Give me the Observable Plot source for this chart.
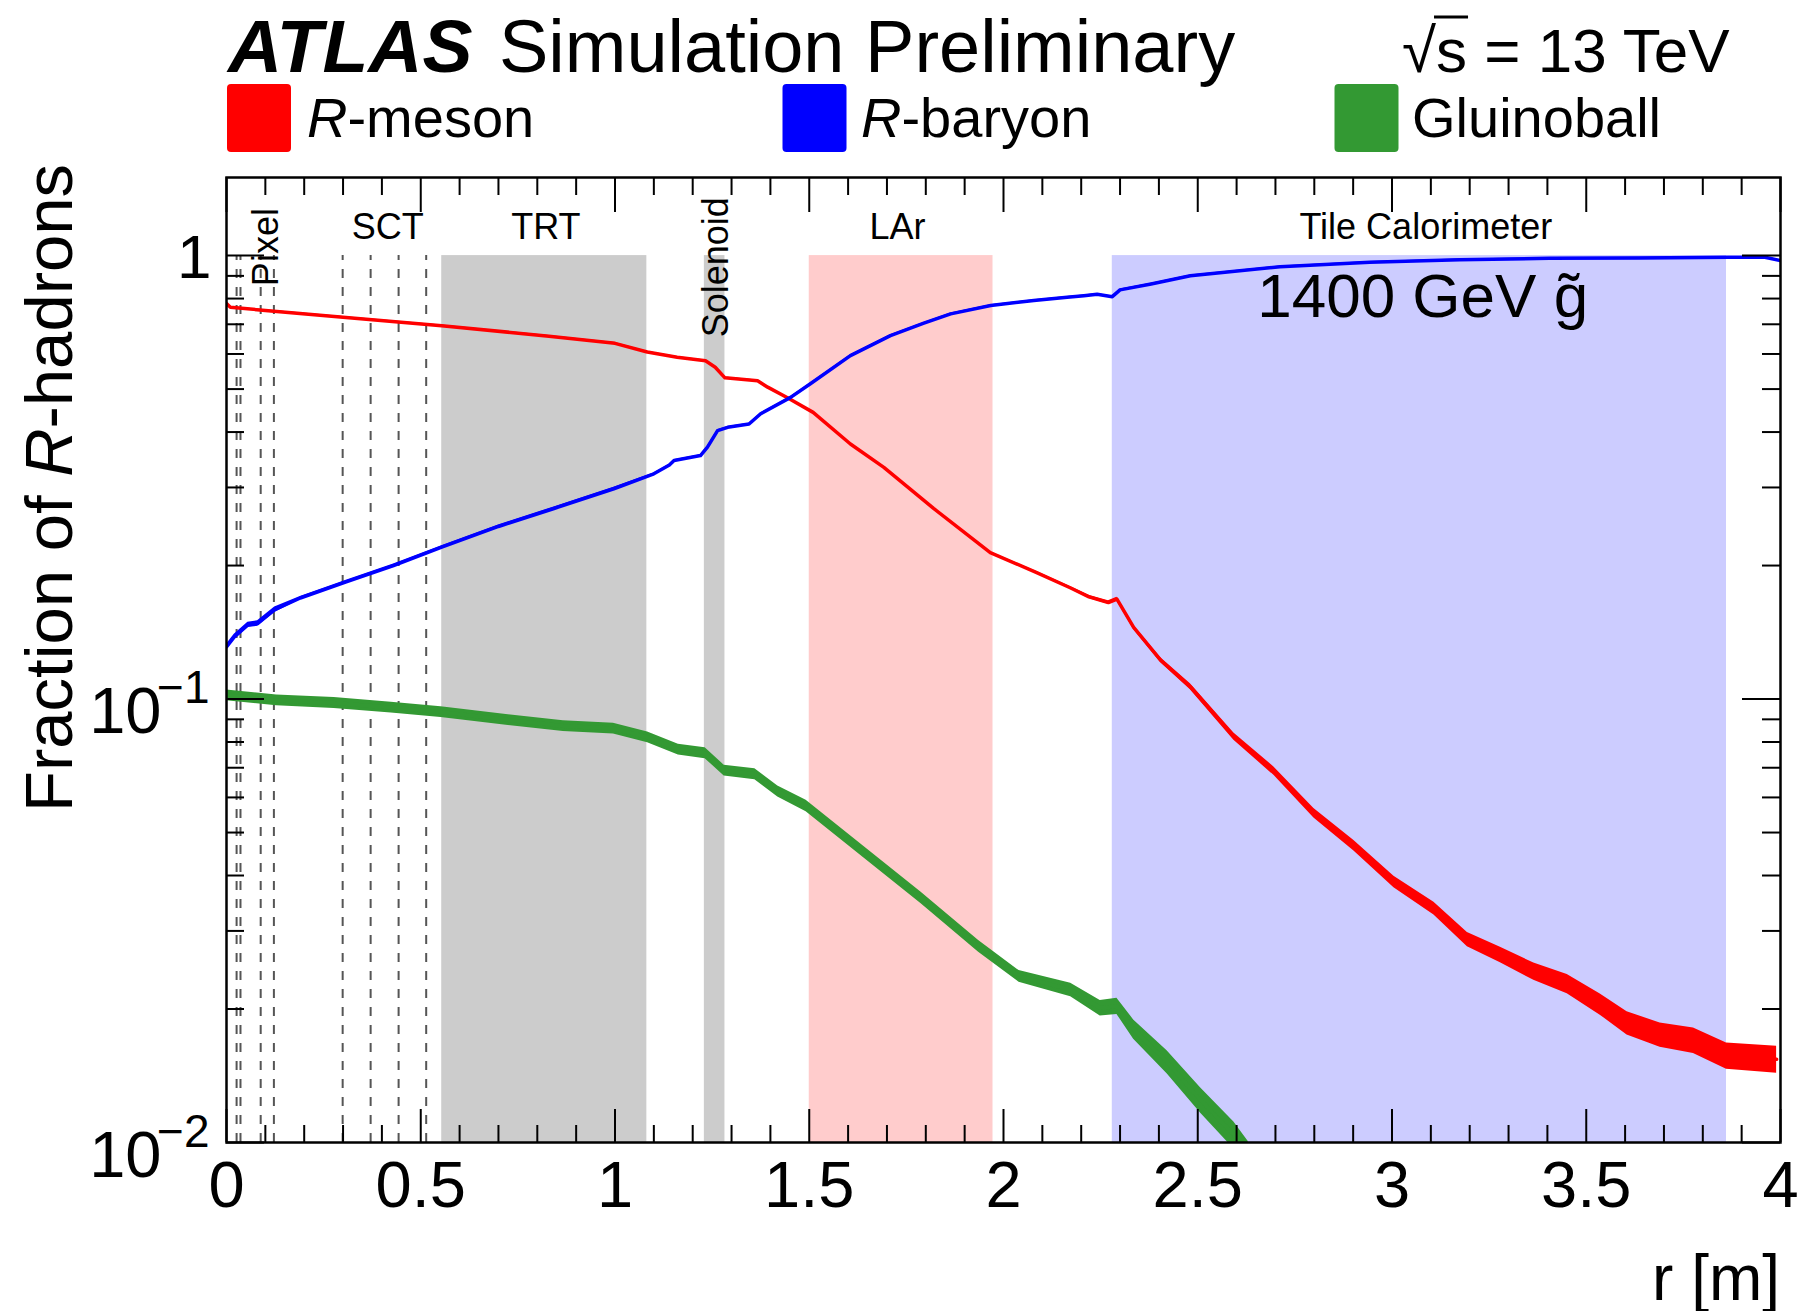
<!DOCTYPE html>
<html>
<head>
<meta charset="utf-8">
<script src="https://cdn.jsdelivr.net/npm/d3@7"></script>
<script src="https://cdn.jsdelivr.net/npm/@observablehq/plot@0.6"></script>
<style>
html, body { margin: 0; padding: 0; background: #fff; }
#chart { position: relative; width: 1804px; height: 1311px; }
</style>
</head>
<body>
<div id="chart"></div>
<script>
// ---------------- data ----------------
// R-meson fraction vs radius r [m]
const mesonR = [0, 0.01, 0.1, 0.3, 0.554, 0.83, 1.0, 1.083, 1.16, 1.233, 1.258, 1.283, 1.367, 1.393, 1.444, 1.51, 1.606, 1.692, 1.82, 1.966, 2.084, 2.173, 2.22, 2.27, 2.292, 2.335, 2.404, 2.481, 2.593, 2.696, 2.799, 2.902, 3.005, 3.108, 3.194, 3.279, 3.365, 3.451, 3.536, 3.605, 3.69, 3.776, 3.861, 3.99];
const mesonF = [0.78, 0.765, 0.752, 0.726, 0.695, 0.658, 0.634, 0.606, 0.59, 0.579, 0.56, 0.53, 0.522, 0.505, 0.478, 0.443, 0.376, 0.333, 0.269, 0.214, 0.193, 0.178, 0.17, 0.165, 0.168, 0.145, 0.1225, 0.1066, 0.0823, 0.0688, 0.0553, 0.0467, 0.0387, 0.0337, 0.0287, 0.0265, 0.0243, 0.0228, 0.0205, 0.0186, 0.0175, 0.017, 0.0157, 0.0154];
const mesonErr = [0.004, 0.004, 0.004, 0.004, 0.004, 0.004, 0.004, 0.004, 0.004, 0.004, 0.004, 0.004, 0.004, 0.004, 0.004, 0.004, 0.004, 0.004, 0.004, 0.004, 0.006, 0.007, 0.008, 0.009, 0.01, 0.011, 0.013, 0.016, 0.019, 0.022, 0.025, 0.027, 0.03, 0.033, 0.037, 0.04, 0.045, 0.05, 0.055, 0.06, 0.063, 0.066, 0.068, 0.07];

// R-baryon fraction
const baryonR = [0, 0.02, 0.055, 0.08, 0.124, 0.19, 0.31, 0.43, 0.554, 0.7, 0.843, 0.997, 1.10, 1.14, 1.152, 1.22, 1.238, 1.264, 1.29, 1.345, 1.375, 1.452, 1.503, 1.606, 1.709, 1.795, 1.864, 1.967, 2.078, 2.164, 2.207, 2.241, 2.28, 2.30, 2.38, 2.481, 2.712, 2.943, 3.174, 3.405, 3.636, 3.867, 3.96, 4.0];
const baryonF = [0.131, 0.138, 0.147, 0.148, 0.159, 0.169, 0.184, 0.2, 0.22, 0.245, 0.269, 0.298, 0.322, 0.337, 0.345, 0.354, 0.37, 0.403, 0.41, 0.417, 0.44, 0.479, 0.514, 0.595, 0.66, 0.704, 0.739, 0.772, 0.792, 0.805, 0.812, 0.818, 0.808, 0.837, 0.863, 0.901, 0.944, 0.966, 0.979, 0.986, 0.988, 0.991, 0.991, 0.974];
const baryonErr = [0.014, 0.014, 0.014, 0.014, 0.014, 0.008, 0.008, 0.008, 0.008, 0.008, 0.008, 0.008, 0.004, 0.004, 0.004, 0.004, 0.004, 0.004, 0.004, 0.004, 0.004, 0.004, 0.004, 0.004, 0.004, 0.004, 0.004, 0.004, 0.004, 0.004, 0.004, 0.004, 0.004, 0.004, 0.004, 0.004, 0.004, 0.004, 0.004, 0.004, 0.004, 0.004, 0.004, 0.004];

// Gluinoball fraction
const glueR = [0, 0.129, 0.277, 0.424, 0.552, 0.72, 0.867, 0.996, 1.084, 1.163, 1.232, 1.281, 1.36, 1.419, 1.492, 1.64, 1.788, 1.936, 2.04, 2.173, 2.249, 2.292, 2.335, 2.421, 2.507, 2.593, 2.63];
const glueF = [0.102, 0.0993, 0.098, 0.0957, 0.0935, 0.0898, 0.0869, 0.0858, 0.082, 0.0769, 0.0755, 0.069, 0.0677, 0.0619, 0.0574, 0.0452, 0.0356, 0.0277, 0.0237, 0.0221, 0.0201, 0.0203, 0.018, 0.0152, 0.01247, 0.0104, 0.0094];
const glueErr = [0.028, 0.028, 0.028, 0.028, 0.028, 0.028, 0.028, 0.028, 0.028, 0.028, 0.028, 0.028, 0.028, 0.028, 0.03, 0.03, 0.03, 0.03, 0.03, 0.035, 0.04, 0.042, 0.05, 0.06, 0.065, 0.07, 0.07];

// detector regions (r in m)
const bandNames = ["TRT", "Solenoid", "LAr", "Tile Calorimeter"];
const bandStart = [0.554, 1.23, 1.50, 2.28];
const bandEnd   = [1.082, 1.283, 1.973, 3.861];
// silicon layers (dashed lines)
const layerR = [0.026, 0.036, 0.088, 0.122, 0.299, 0.371, 0.443, 0.514];

// detector labels
const detText = ["Pixel", "SCT", "TRT", "Solenoid", "LAr", "Tile Calorimeter"];
const detR    = [0.132, 0.415, 0.822, 1.290, 1.727, 3.087];
const detF    = [1.045, 1.092, 1.092, 0.941, 1.092, 1.092];
const detVertical = [true, false, false, true, false, false];

// sample label
const sampleText = "1400 GeV g\u0303";
const sampleR = 2.653, sampleF = 0.726;

// axis ticks
const xMajor = [0, 0.5, 1, 1.5, 2, 2.5, 3, 3.5, 4];
const xMinor = [0.1, 0.2, 0.3, 0.4, 0.6, 0.7, 0.8, 0.9, 1.1, 1.2, 1.3, 1.4, 1.6, 1.7, 1.8, 1.9, 2.1, 2.2, 2.3, 2.4, 2.6, 2.7, 2.8, 2.9, 3.1, 3.2, 3.3, 3.4, 3.6, 3.7, 3.8, 3.9];
const xTickLabels = ["0", "0.5", "1", "1.5", "2", "2.5", "3", "3.5", "4"];
const yMajor = [0.01, 0.1, 1];
const yMinor = [0.02, 0.03, 0.04, 0.05, 0.06, 0.07, 0.08, 0.09, 0.2, 0.3, 0.4, 0.5, 0.6, 0.7, 0.8, 0.9];
const yTickBase = ["10", "10", "1"];
const yTickSup  = ["\u22122", "\u22121", ""];

// legend
const seriesNames = ["R-meson", "R-baryon", "Gluinoball"];

// ---------------- styling / layout ----------------
const W = 1804, H = 1311, ML = 226, MR = 24, MT = 177, MB = 169;
const FH = H - MT - MB, FW = W - ML - MR;
const FONT = "'Liberation Sans', Arial, Helvetica, sans-serif";
const RED = "#ff0000", BLUE = "#0000ff", GREEN = "#339933";
const bandFill = {"TRT": "#cccccc", "Solenoid": "#cccccc", "LAr": "#ffcccc", "Tile Calorimeter": "#ccccff"};

const mk = (R, F, E) => R.map((r, i) => ({r, f: F[i], lo: F[i] * (1 - E[i]), hi: F[i] * (1 + E[i])}));
const meson = mk(mesonR, mesonF, mesonErr);
const baryon = mk(baryonR, baryonF, baryonErr);
const glue = mk(glueR, glueF, glueErr);
const bands = bandNames.map((n, i) => ({name: n, x1: bandStart[i], x2: bandEnd[i], fill: bandFill[n]}));
const dets = detText.map((t, i) => ({t, r: detR[i], f: detF[i], rot: detVertical[i] ? -90 : 0}));
const yLab = yMajor.map((v, i) => ({v, base: yTickBase[i], sup: yTickSup[i]}));
const xLab = xMajor.map((v, i) => ({v, t: xTickLabels[i]}));

const plot = Plot.plot({
  width: W, height: H,
  marginLeft: ML, marginRight: MR, marginTop: MT, marginBottom: MB,
  style: {fontFamily: FONT, background: "#fff", overflow: "visible", color: "#000"},
  x: {domain: [0, 4], axis: null},
  y: {type: "log", domain: [0.01, 1.5], axis: null},
  color: {type: "identity"},
  marks: [
    Plot.rect(bands, {x1: "x1", x2: "x2", y1: 0.01, y2: 1, fill: "fill"}),
    Plot.ruleX(layerR, {x: d => d, y1: 0.01, y2: 1, stroke: "#555", strokeWidth: 2, strokeDasharray: "9,9"}),
    Plot.text(dets, {x: "r", y: "f", text: "t", rotate: "rot", fontSize: 36, textAnchor: "middle", lineAnchor: "bottom", fill: "#000"}),
    Plot.text([sampleText], {x: () => sampleR, y: () => sampleF, text: d => d, fontSize: 62, textAnchor: "start", lineAnchor: "bottom", fill: "#000"}),
    // uncertainty bands + central lines
    Plot.areaY(glue, {x: "r", y1: "lo", y2: "hi", fill: GREEN, clip: true}),
    Plot.line(glue, {x: "r", y: "f", stroke: GREEN, strokeWidth: 4, clip: true}),
    Plot.areaY(meson, {x: "r", y1: "lo", y2: "hi", fill: RED, clip: true}),
    Plot.line(meson, {x: "r", y: "f", stroke: RED, strokeWidth: 3.5, clip: true}),
    Plot.areaY(baryon, {x: "r", y1: "lo", y2: "hi", fill: BLUE, clip: true}),
    Plot.line(baryon, {x: "r", y: "f", stroke: BLUE, strokeWidth: 3.5, clip: true}),
    // ticks (inside the frame, mirrored)
    Plot.tickX(xMajor, {x: d => d, insetTop: FH - 33, stroke: "#000", strokeWidth: 2}),
    Plot.tickX(xMinor, {x: d => d, insetTop: FH - 17, stroke: "#000", strokeWidth: 2}),
    Plot.tickX(xMajor, {x: d => d, insetBottom: FH - 35, stroke: "#000", strokeWidth: 2}),
    Plot.tickX(xMinor, {x: d => d, insetBottom: FH - 18, stroke: "#000", strokeWidth: 2}),
    Plot.tickY(yMajor, {y: d => d, insetRight: FW - 38, stroke: "#000", strokeWidth: 2}),
    Plot.tickY(yMinor, {y: d => d, insetRight: FW - 18, stroke: "#000", strokeWidth: 2}),
    Plot.tickY(yMajor, {y: d => d, insetLeft: FW - 38, stroke: "#000", strokeWidth: 2}),
    Plot.tickY(yMinor, {y: d => d, insetLeft: FW - 18, stroke: "#000", strokeWidth: 2}),
    Plot.frame({stroke: "#000", strokeWidth: 2.5}),
    // tick labels
    Plot.text(xLab, {x: "v", text: "t", frameAnchor: "bottom", lineAnchor: "top", dy: 18, fontSize: 65, fill: "#000"}),
    Plot.text(yLab.filter(d => !d.sup), {y: "v", text: "base", frameAnchor: "left", textAnchor: "end", lineAnchor: "bottom", dx: -15, dy: 22, fontSize: 62, fill: "#000"}),
    Plot.text(yLab.filter(d => d.sup), {y: "v", text: "base", frameAnchor: "left", textAnchor: "end", lineAnchor: "bottom", dx: -65, dy: 34, fontSize: 65, fill: "#000"}),
    Plot.text(yLab.filter(d => d.sup), {y: "v", text: "sup", frameAnchor: "left", textAnchor: "end", lineAnchor: "bottom", dx: -17, dy: 4, fontSize: 46, fill: "#000"})
  ]
});
document.getElementById("chart").appendChild(plot);

// ---------------- titles, legend and axis titles ----------------
const svg = d3.select(plot);
function txt(x, y, parts, size, attrs = {}) {
  const t = svg.append("text").attr("x", x).attr("y", y)
    .attr("font-size", size).attr("font-family", FONT).attr("fill", "#000")
    .attr("text-anchor", "start");
  for (const [k, v] of Object.entries(attrs)) t.attr(k, v);
  for (const p of parts) {
    const s = t.append("tspan").text(p.t);
    if (p.i) s.attr("font-style", "italic");
    if (p.b) s.attr("font-weight", "bold");
  }
  return t;
}
txt(228, 71.5, [{t: "ATLAS", b: true, i: true}], 75);
txt(499, 71.5, [{t: "Simulation Preliminary"}], 74);
const sq = txt(1402, 71.5, [{t: "\u221As = 13 TeV"}], 62);
{
  const n = sq.node();
  const a = n.getStartPositionOfChar(1).x, b = n.getEndPositionOfChar(1).x;
  svg.append("line").attr("x1", a - 2).attr("x2", b + 1).attr("y1", 17).attr("y2", 17)
    .attr("stroke", "#000").attr("stroke-width", 3);
}

const legendColors = [RED, BLUE, GREEN];
const legendBoxX = [227, 782.5, 1334.5];
const legendTextX = [307, 861, 1412];
seriesNames.forEach((name, i) => {
  svg.append("rect").attr("x", legendBoxX[i]).attr("y", 84).attr("width", 64).attr("height", 68)
    .attr("rx", 4).attr("fill", legendColors[i]);
  const parts = name.startsWith("R-") ? [{t: "R", i: true}, {t: name.slice(1)}] : [{t: name}];
  txt(legendTextX[i], 136.5, parts, 56);
});

txt(0, 0, [{t: "Fraction of "}, {t: "R", i: true}, {t: "-hadrons"}], 67,
  {"text-anchor": "middle", transform: "translate(72,488) rotate(-90)"});
txt(W - MR, 1300, [{t: "r [m]"}], 64, {"text-anchor": "end"});
</script>
</body>
</html>
